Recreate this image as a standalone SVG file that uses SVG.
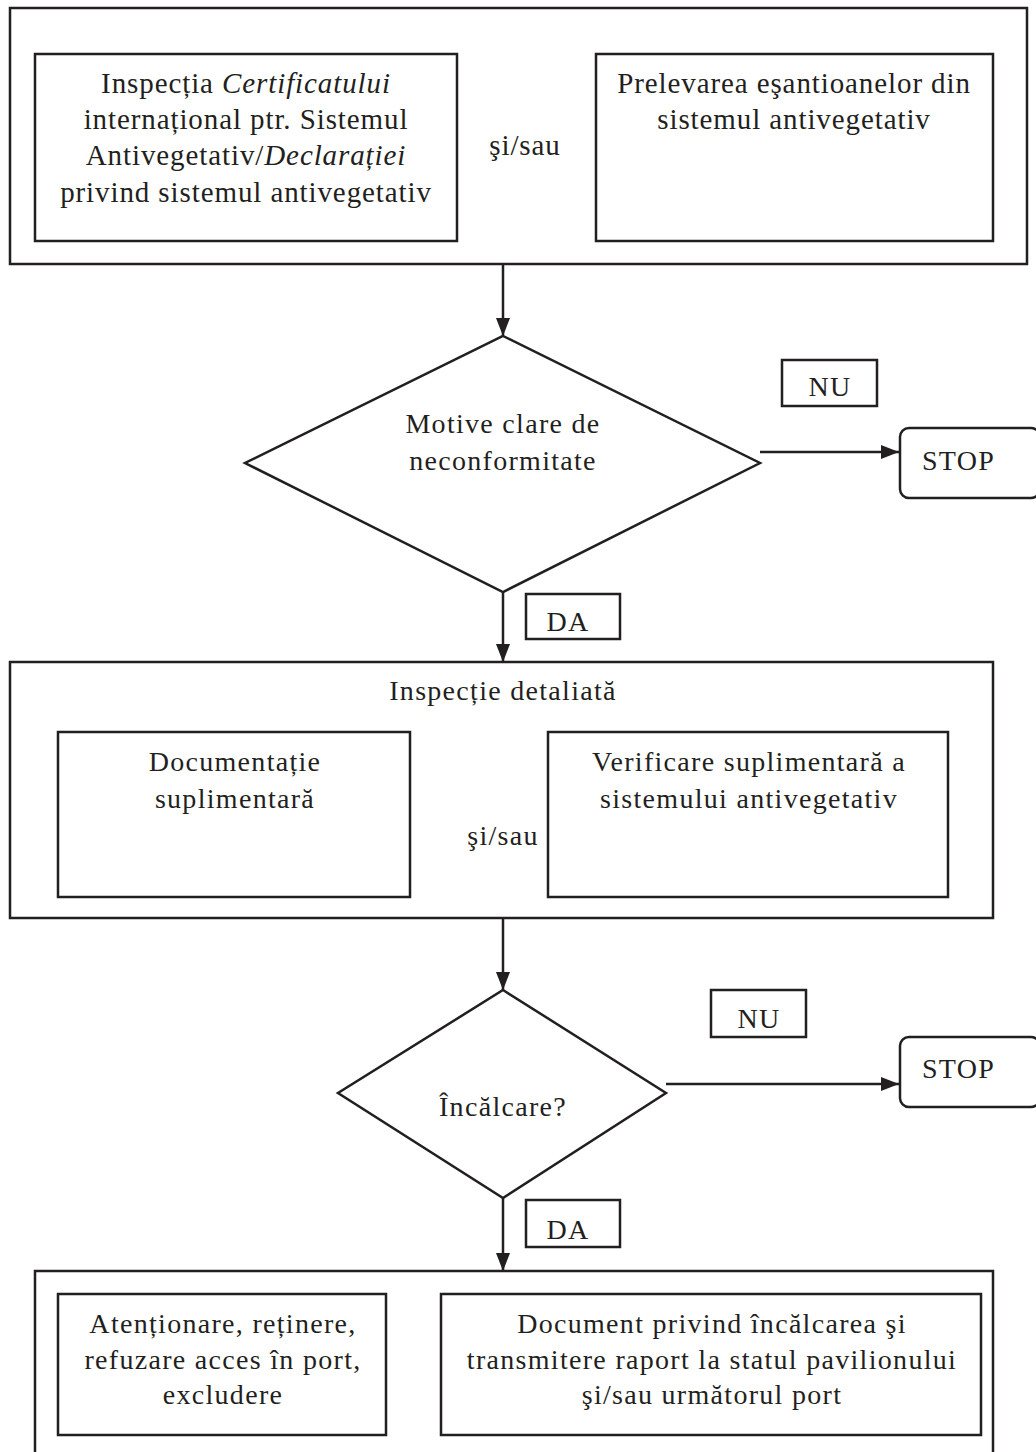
<svg xmlns="http://www.w3.org/2000/svg" width="1036" height="1452" viewBox="0 0 1036 1452">
<style>
.box{fill:#fff;stroke:#231f20;stroke-width:2.5}
.ln{fill:none;stroke:#231f20;stroke-width:2.5}
text{font-family:"Liberation Serif","Times New Roman",serif;font-size:29px;letter-spacing:0.9px;fill:#231f20;text-anchor:middle}
.sm{font-size:28px;letter-spacing:1.3px}
.l{text-anchor:start}
</style>
<defs>
<marker id="ah" viewBox="0 0 18 14" refX="18" refY="7" markerWidth="18" markerHeight="14" markerUnits="userSpaceOnUse" orient="auto">
<path d="M0,0 L18,7 L0,14 Z" fill="#231f20"/>
</marker>
</defs>
<rect width="1036" height="1452" fill="#fff"/>
<g id="connectors">
<line class="ln" x1="503" y1="264" x2="503" y2="336" marker-end="url(#ah)"/>
<line class="ln" x1="760" y1="452" x2="899" y2="452" marker-end="url(#ah)"/>
<line class="ln" x1="503" y1="592" x2="503" y2="662" marker-end="url(#ah)"/>
<line class="ln" x1="503" y1="918" x2="503" y2="990" marker-end="url(#ah)"/>
<line class="ln" x1="666" y1="1084" x2="899" y2="1084" marker-end="url(#ah)"/>
<line class="ln" x1="503" y1="1198" x2="503" y2="1271" marker-end="url(#ah)"/>
</g>
<g id="group1">
<rect class="box" x="10" y="8" width="1017" height="256"/>
<text x="525" y="155">şi/sau</text>
</g>
<g id="inspectia">
<rect class="box" x="35" y="54" width="422" height="187"/>
<text x="246" y="93">Inspecția <tspan font-style="italic">Certificatului</tspan></text>
<text x="246" y="129">internațional ptr. Sistemul</text>
<text x="246" y="165">Antivegetativ/<tspan font-style="italic">Declarației</tspan></text>
<text x="246" y="202">privind sistemul antivegetativ</text>
</g>
<g id="prelevarea">
<rect class="box" x="596" y="54" width="397" height="187"/>
<text x="794" y="93">Prelevarea eşantioanelor din</text>
<text x="794" y="129">sistemul antivegetativ</text>
</g>
<g id="decision1">
<polygon class="box" points="503,336 760,463 503,592 245,463"/>
<text class="sm" x="503" y="433">Motive clare de</text>
<text class="sm" x="503" y="470">neconformitate</text>
</g>
<g id="nu1">
<rect class="box" x="782" y="360" width="95" height="46"/>
<text class="sm" x="830" y="396">NU</text>
</g>
<g id="stop1">
<rect class="box" x="900" y="428" width="140" height="70" rx="9"/>
<text class="sm l" x="922" y="470">STOP</text>
</g>
<g id="da1">
<rect class="box" x="526" y="594" width="94" height="45"/>
<text class="sm" x="568" y="631">DA</text>
</g>
<g id="group2">
<rect class="box" x="10" y="662" width="983" height="256"/>
<text class="sm" x="503" y="700">Inspecție detaliată</text>
<text class="sm" x="503" y="845">şi/sau</text>
</g>
<g id="documentatie">
<rect class="box" x="58" y="732" width="352" height="165"/>
<text class="sm" x="235" y="771">Documentație</text>
<text class="sm" x="235" y="808">suplimentară</text>
</g>
<g id="verificare">
<rect class="box" x="548" y="732" width="400" height="165"/>
<text class="sm" x="749" y="771">Verificare suplimentară a</text>
<text class="sm" x="749" y="808">sistemului antivegetativ</text>
</g>
<g id="decision2">
<polygon class="box" points="503,990 666,1093 503,1198 338,1093"/>
<text class="sm" x="503" y="1116">Încălcare?</text>
</g>
<g id="nu2">
<rect class="box" x="711" y="990" width="95" height="47"/>
<text class="sm" x="759" y="1028">NU</text>
</g>
<g id="stop2">
<rect class="box" x="900" y="1037" width="140" height="70" rx="9"/>
<text class="sm l" x="922" y="1078">STOP</text>
</g>
<g id="da2">
<rect class="box" x="526" y="1200" width="94" height="47"/>
<text class="sm" x="568" y="1239">DA</text>
</g>
<g id="group3">
<rect class="box" x="35" y="1271" width="958" height="200"/>
</g>
<g id="atentionare">
<rect class="box" x="58" y="1294" width="328" height="141"/>
<text class="sm" x="223" y="1333">Atenționare, reținere,</text>
<text class="sm" x="223" y="1369">refuzare acces în port,</text>
<text class="sm" x="223" y="1404">excludere</text>
</g>
<g id="document">
<rect class="box" x="441" y="1294" width="540" height="141"/>
<text class="sm" x="712" y="1333">Document privind încălcarea şi</text>
<text class="sm" x="712" y="1369">transmitere raport la statul pavilionului</text>
<text class="sm" x="712" y="1404">şi/sau următorul port</text>
</g>
</svg>
